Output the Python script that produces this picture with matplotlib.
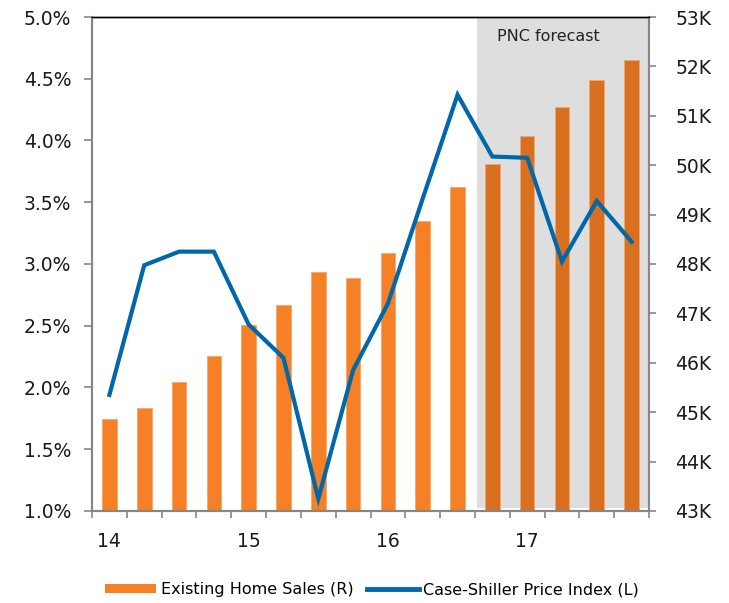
import numpy as np
import matplotlib
matplotlib.use("Agg")
import matplotlib.pyplot as plt
from matplotlib.patches import Patch
from matplotlib.lines import Line2D

plt.rcParams['font.family'] = ['DejaVu Sans']

# quarterly, 14Q1 .. 17Q4
quarters = ["14Q1", "14Q2", "14Q3", "14Q4", "15Q1", "15Q2", "15Q3", "15Q4",
            "16Q1", "16Q2", "16Q3", "16Q4", "17Q1", "17Q2", "17Q3", "17Q4"]
home_sales_k = [44.86, 45.08, 45.61, 46.14, 46.77, 47.17, 47.83, 47.71,
                48.22, 48.87, 49.55, 50.02, 50.59, 51.18, 51.72, 52.12]
case_shiller = [1.94, 2.99, 3.10, 3.10, 2.51, 2.24, 1.10, 2.14,
                2.68, 3.53, 4.37, 3.87, 3.86, 3.02, 3.51, 3.18]
year_labels = ["14", "15", "16", "17"]
left_ticks = [1.0, 1.5, 2.0, 2.5, 3.0, 3.5, 4.0, 4.5, 5.0]
right_ticks = [43, 44, 45, 46, 47, 48, 49, 50, 51, 52, 53]
forecast_start = 10.55

ORANGE = "#F58025"
ORANGE_DK = "#D97020"
BLUE = "#0068A8"
GREY = "#868686"
TICK_FS = 13.5

fig = plt.figure(figsize=(7.29, 6.03), dpi=100)
ax = fig.add_axes([0.1262, 0.1526, 0.7641, 0.8192])
ax2 = ax.twinx()

x = np.arange(len(quarters))
colors = [ORANGE_DK if i > forecast_start else ORANGE for i in x]

# bars on the right-hand (K) scale
ax.axvspan(forecast_start, 15.48, ymin=0.006, ymax=1, color="#DEDEDE", zorder=0, lw=0)
ax.bar(x, home_sales_k, width=0.42, bottom=0, color=colors,
       edgecolor="#F8A565", linewidth=0.6, zorder=2)
ax.set_ylim(43, 53)
ax.set_xlim(-0.5, 15.5)
ax.yaxis.tick_right()
ax.set_yticks(right_ticks)
ax.set_yticklabels([f"{v}K" for v in right_ticks], fontsize=TICK_FS, color="#1a1a1a")
ax.tick_params(axis="y", direction="out", length=5, width=1.2, color=GREY, pad=14)
ax.text(0.82, 0.96, "PNC forecast", transform=ax.transAxes, ha="center", va="center",
        fontsize=11.5, color="#222222")

# line on the left-hand (%) scale
ax2.plot(x, case_shiller, color=BLUE, lw=3, solid_joinstyle="miter", zorder=3)
ax2.set_ylim(1.0, 5.0)
ax2.yaxis.tick_left()
ax2.set_yticks(left_ticks)
ax2.set_yticklabels([f"{v:.1f}%" for v in left_ticks], fontsize=TICK_FS, color="#1a1a1a")
ax2.tick_params(axis="y", direction="out", length=6, width=1.2, color=GREY, pad=9)

# quarter boundary ticks, year labels under first quarter
ax.set_xticks(np.arange(-0.5, 16, 1))
ax.set_xticklabels([])
ax.tick_params(axis="x", which="major", direction="out", length=5, width=1.2, color=GREY)
ax.set_xticks([0, 4, 8, 12], minor=True)
ax.set_xticklabels(year_labels, minor=True, fontsize=TICK_FS, color="#1a1a1a")
ax.tick_params(axis="x", which="minor", length=0, pad=15)

for a in (ax, ax2):
    for side in ("left", "right", "bottom"):
        a.spines[side].set_color(GREY)
        a.spines[side].set_linewidth(1.5)
    a.spines["top"].set_color("black")
    a.spines["top"].set_linewidth(1.0)

handles = [Patch(facecolor=ORANGE, edgecolor="none"),
           Line2D([0], [0], color=BLUE, lw=3.5)]
fig.legend(handles, ["Existing Home Sales (R)", "Case-Shiller Price Index (L)"],
           loc="center", bbox_to_anchor=(0.51, 0.022), ncol=2, frameon=False,
           fontsize=11.5, handlelength=3.25, handleheight=0.5, columnspacing=0.8,
           handletextpad=0.3)

fig.savefig("out.png", dpi=100)
